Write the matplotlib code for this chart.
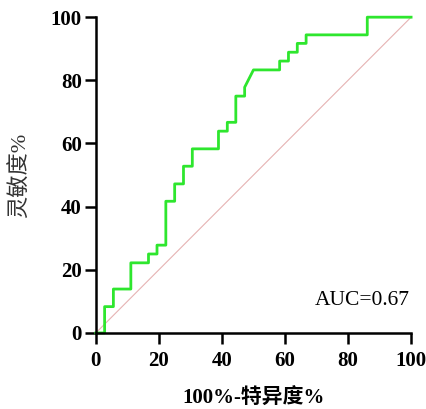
import matplotlib
matplotlib.use("Agg")
import matplotlib.pyplot as plt

# ROC curve (100% - specificity, sensitivity), in %
fpr = [0, 2.78, 2.78, 5.56, 5.56, 11.1, 11.1, 16.7, 16.7, 19.4, 19.4, 22.2, 22.2,
       25.0, 25.0, 27.8, 27.8, 30.6, 30.6, 38.9, 38.9, 41.7, 41.7, 44.4, 44.4,
       47.2, 47.2, 50.0, 58.3, 58.3, 61.1, 61.1, 63.9, 63.9, 66.7, 66.7,
       86.1, 86.1, 100]
tpr = [0, 0, 8.33, 8.33, 13.9, 13.9, 22.2, 22.2, 25.0, 25.0, 27.8, 27.8, 41.7,
       41.7, 47.2, 47.2, 52.8, 52.8, 58.3, 58.3, 63.9, 63.9, 66.7, 66.7, 75.0,
       75.0, 77.8, 83.3, 83.3, 86.1, 86.1, 88.9, 88.9, 91.7, 91.7, 94.4,
       94.4, 100, 100]
ref_line = [0, 100]
ticks = [0, 20, 40, 60, 80, 100]
auc_label = "AUC=0.67"

serif = ["Liberation Serif", "Noto Sans CJK SC"]

fig = plt.figure(figsize=(4.26, 4.09), dpi=100)
ax = fig.add_axes([0.225, 0.186, 0.74, 0.772])

ax.plot(ref_line, ref_line, color="#e6b3b3", linewidth=0.8, zorder=1)
ax.plot(fpr, tpr, color="#2ee62e", linewidth=2.0, zorder=2, clip_on=False)

ax.set_xlim(0, 100)
ax.set_ylim(0, 100)
ax.set_xticks(ticks)
ax.set_yticks(ticks)
ax.set_xticklabels([str(t) for t in ticks], family=serif, fontweight="bold", fontsize=15)
ax.set_yticklabels([str(t) for t in ticks], family=serif, fontweight="bold", fontsize=15)

for side in ["top", "right"]:
    ax.spines[side].set_visible(False)
for side in ["left", "bottom"]:
    ax.spines[side].set_linewidth(1.8)
ax.tick_params(direction="out", length=8, width=1.8)
ax.tick_params(axis="x", pad=5)
ax.tick_params(axis="y", pad=2)

ax.set_xlabel("100%-特异度%", family=serif, fontweight="bold", fontsize=15, labelpad=13)
ax.set_ylabel("灵敏度%", family=serif, fontsize=16, fontweight="light",
              color="#333333", labelpad=14)

ax.text(99.5, 8.8, auc_label, family=serif, fontsize=15.5, ha="right", va="baseline")

fig.savefig("out.png", dpi=100)
